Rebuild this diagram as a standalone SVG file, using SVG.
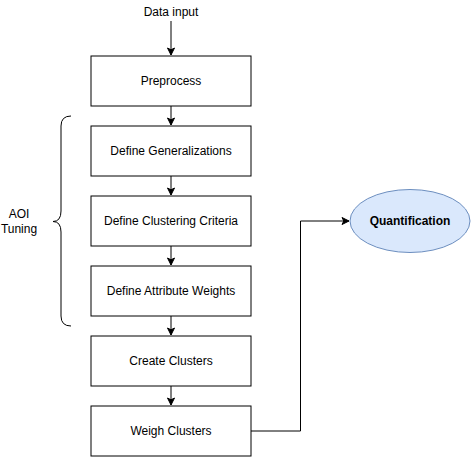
<svg xmlns="http://www.w3.org/2000/svg" width="471" height="457" viewBox="0 0 471 457">
<defs>
<style>
.box{fill:#ffffff;stroke:#000000;stroke-width:1}
.t{font-family:"Liberation Sans",Arial,Helvetica,sans-serif;font-size:12px;fill:#000000;text-anchor:middle}
.c{fill:none;stroke:#000000;stroke-width:1}
</style>
<marker id="arr" markerWidth="10" markerHeight="10" refX="8" refY="5" orient="auto" markerUnits="userSpaceOnUse">
<path d="M1,1.5 L8,5 L1,8.5 L2.8,5 Z" fill="#000000" stroke="#000000" stroke-width="1"/>
</marker>
</defs>
<rect width="471" height="457" fill="#ffffff"/>
<g id="connectors">
<path class="c" d="M171,21 V55" marker-end="url(#arr)"/>
<path class="c" d="M171,106 V125" marker-end="url(#arr)"/>
<path class="c" d="M171,176 V195" marker-end="url(#arr)"/>
<path class="c" d="M171,246 V265" marker-end="url(#arr)"/>
<path class="c" d="M171,316 V335" marker-end="url(#arr)"/>
<path class="c" d="M171,386 V405" marker-end="url(#arr)"/>
<path class="c" d="M251,431 H300.5 V221 H349" marker-end="url(#arr)"/>
</g>
<g id="data-input"><text class="t" x="171" y="16">Data input</text></g>
<g id="preprocess"><rect class="box" x="91" y="56" width="160" height="50"/><text class="t" x="171" y="85">Preprocess</text></g>
<g id="define-generalizations"><rect class="box" x="91" y="126" width="160" height="50"/><text class="t" x="171" y="155">Define Generalizations</text></g>
<g id="define-clustering-criteria"><rect class="box" x="91" y="196" width="160" height="50"/><text class="t" x="171" y="225">Define Clustering Criteria</text></g>
<g id="define-attribute-weights"><rect class="box" x="91" y="266" width="160" height="50"/><text class="t" x="171" y="295">Define Attribute Weights</text></g>
<g id="create-clusters"><rect class="box" x="91" y="336" width="160" height="50"/><text class="t" x="171" y="365">Create Clusters</text></g>
<g id="weigh-clusters"><rect class="box" x="91" y="406" width="160" height="50"/><text class="t" x="171" y="435">Weigh Clusters</text></g>
<g id="quantification"><ellipse cx="410" cy="221" rx="60" ry="31.5" fill="#dae8fc" stroke="#6c8ebf" stroke-width="1"/><text class="t" x="410" y="225" font-weight="bold">Quantification</text></g>
<g id="aoi-tuning">
<path class="c" d="M71,116 Q61,116 61,126 L61,211 Q61,221.5 53,221.5 Q61,221.5 61,232 L61,316 Q61,326 71,326"/>
<text class="t" x="19" y="218">AOI</text>
<text class="t" x="19" y="233">Tuning</text>
</g>
</svg>
